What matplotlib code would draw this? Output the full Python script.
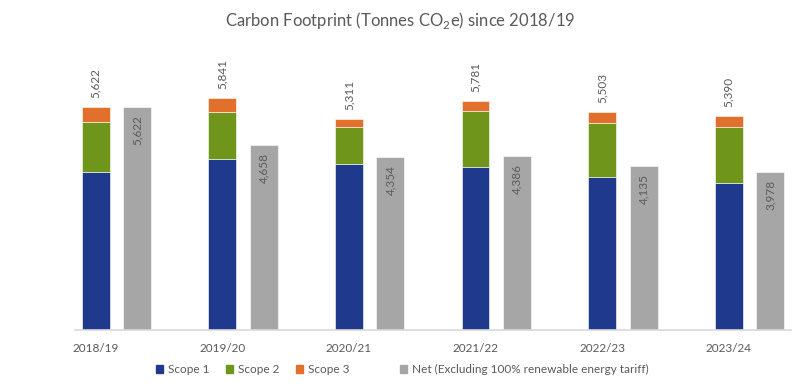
import matplotlib
matplotlib.use("Agg")
import matplotlib.pyplot as plt
from matplotlib.patches import Patch
import numpy as np

plt.rcParams['font.family'] = ['Lato', 'DejaVu Sans']
plt.rcParams['mathtext.fontset'] = 'custom'
plt.rcParams['mathtext.rm'] = 'Lato'

years = ["2018/19", "2019/20", "2020/21", "2021/22", "2022/23", "2023/24"]
scope1 = [3975, 4316, 4195, 4120, 3860, 3713]
scope2 = [1276, 1188, 927, 1408, 1356, 1408]
scope3 = [371, 337, 189, 253, 287, 269]
totals = [5622, 5841, 5311, 5781, 5503, 5390]
net = [5622, 4658, 4354, 4386, 4135, 3978]

c1 = '#1F3A8C'
c2 = '#6F961B'
c3 = '#E0702B'
cn = '#A6A6A6'
txt = '#595959'

fig = plt.figure(figsize=(8, 3.91), dpi=100)
ax = fig.add_axes([0.094, 0.156, 0.895, 0.69])

x = np.arange(len(years))
w = 0.22
off = 0.328
s1 = np.array(scope1)
s2 = np.array(scope2)
s3 = np.array(scope3)

ax.bar(x, s1, w, color=c1, edgecolor='white', linewidth=0.4)
ax.bar(x, s2, w, bottom=s1, color=c2, edgecolor='white', linewidth=0.4)
ax.bar(x, s3, w, bottom=s1 + s2, color=c3, edgecolor='white', linewidth=0.4)
ax.bar(x + off, net, w, color=cn, edgecolor='white', linewidth=0.4)

for i in range(len(years)):
    top = s1[i] + s2[i] + s3[i]
    ax.text(x[i], top + 230, f"{totals[i]:,}", rotation=90, ha='center', va='bottom',
            color=txt, fontsize=8.5)
    ax.text(x[i] + off, net[i] - 200, f"{net[i]:,}", rotation=90, ha='center', va='top',
            color=txt, fontsize=8.5)

ax.set_xlim(-0.162, 5.494)
ax.set_ylim(0, 6800)
ax.set_xticks(x)
ax.set_xticklabels(years, color=txt, fontsize=8.5)
ax.tick_params(axis='x', length=0, pad=9)
ax.set_yticks([])
for sp in ['top', 'right', 'left']:
    ax.spines[sp].set_visible(False)
ax.spines['bottom'].set_color('#D9D9D9')
ax.spines['bottom'].set_linewidth(1.2)

fig.text(0.5, 0.948, r"Carbon Footprint (Tonnes CO$_2$e) since 2018/19",
         ha='center', va='center', color=txt, fontsize=12)

handles = [Patch(color=c1), Patch(color=c2), Patch(color=c3),
           Patch(color='none'), Patch(color=cn)]
labels = ["Scope 1", "Scope 2", "Scope 3", "  ", "Net (Excluding 100% renewable energy tariff)"]
fig.legend(handles, labels, loc='center', bbox_to_anchor=(0.503, 0.055), ncol=5,
           frameon=False, fontsize=8.5, handlelength=0.6, handleheight=0.6,
           handletextpad=0.4, columnspacing=1.4, labelcolor=txt)

fig.savefig("out.png", dpi=100)
